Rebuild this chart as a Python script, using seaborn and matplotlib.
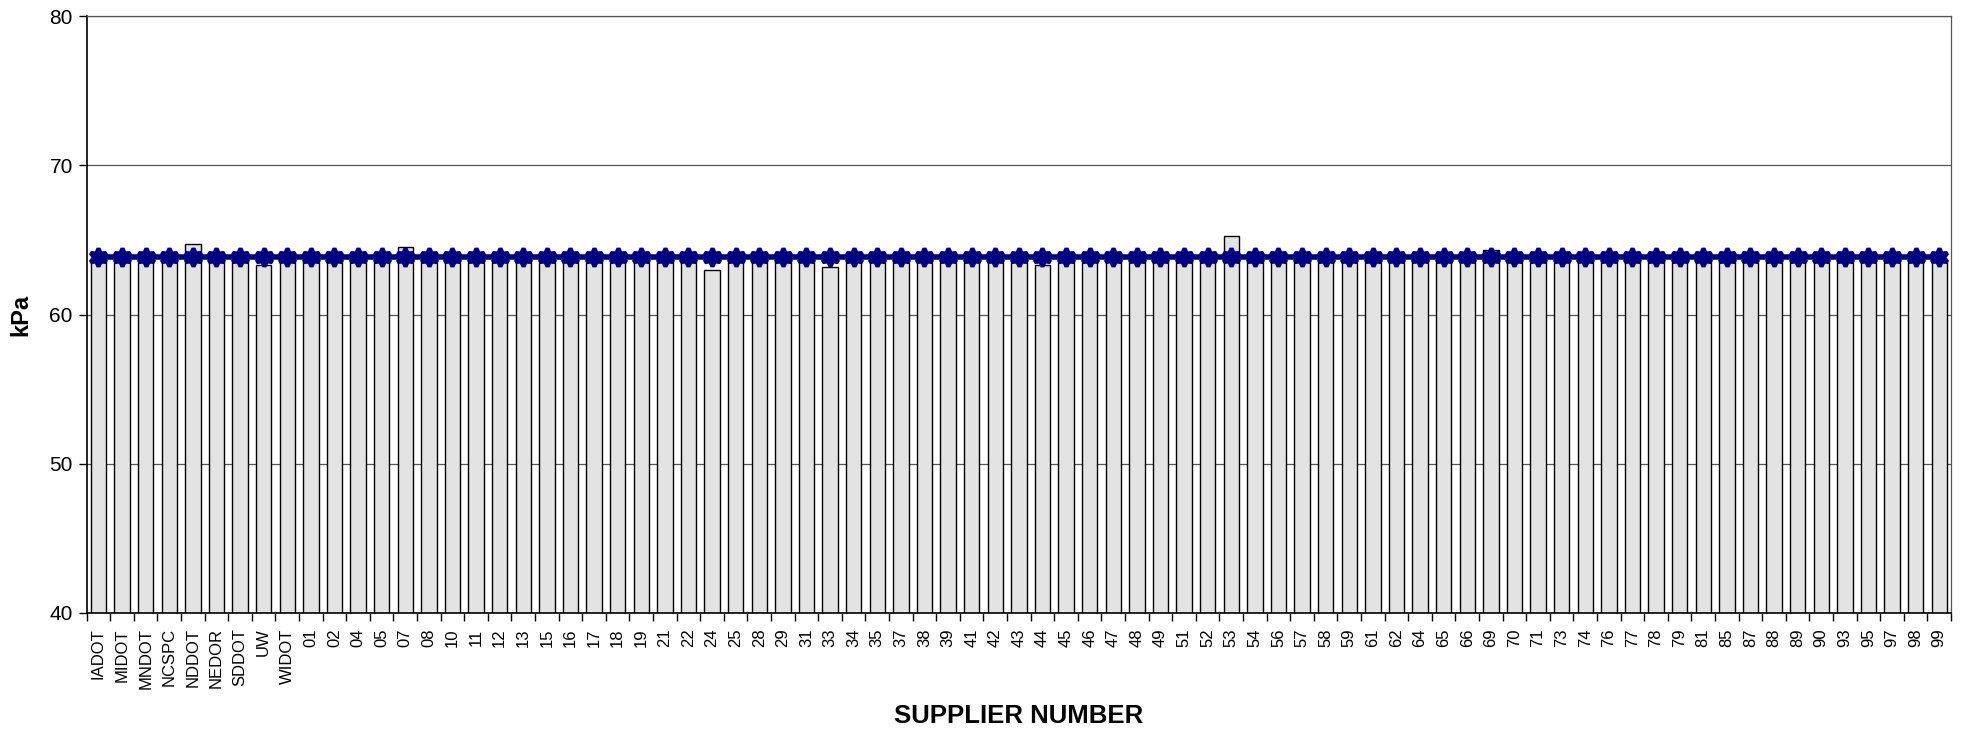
"""Supplier kPa bar chart with average line."""

import matplotlib
matplotlib.use('Agg')
import matplotlib.pyplot as plt
import matplotlib.ticker as mticker
import seaborn as sns
import numpy as np

suppliers = ['IADOT', 'MIDOT', 'MNDOT', 'NCSPC', 'NDDOT', 'NEDOR', 'SDDOT', 'UW', 'WIDOT',
             '01', '02', '04', '05', '07', '08', '10', '11', '12', '13', '15', '16', '17',
             '18', '19', '21', '22', '24', '25', '28', '29', '31', '33', '34', '35', '37',
             '38', '39', '41', '42', '43', '44', '45', '46', '47', '48', '49', '51', '52',
             '53', '54', '56', '57', '58', '59', '61', '62', '64', '65', '66', '69', '70',
             '71', '73', '74', '76', '77', '78', '79', '81', '85', '87', '88', '89', '90',
             '93', '95', '97', '98', '99']

# most suppliers sit just under the average line
kpa = [63.5] * len(suppliers)
special = {'NDDOT': 64.75, 'UW': 63.35, '04': 64.0, '07': 64.55, '24': 63.0,
           '33': 63.2, '44': 63.35, '47': 64.0, '53': 65.25, '64': 64.0, '69': 64.3}
for k, v in special.items():
    kpa[suppliers.index(k)] = v

average = [63.85] * len(suppliers)

y_ticks = [40, 50, 60, 70, 80]

sns.set_theme(style="white")
plt.rcParams['font.family'] = ['Liberation Sans', 'DejaVu Sans']
for key in ['text.color', 'axes.labelcolor', 'xtick.color', 'ytick.color']:
    plt.rcParams[key] = 'black'

fig = plt.figure(figsize=(19.65, 7.32), dpi=100)
ax = fig.add_axes([0.0441, 0.1626, 0.9488, 0.8155])

sns.barplot(x=suppliers, y=kpa, color='#e3e3e3', edgecolor='black', linewidth=1.0,
            width=0.65, saturation=1, ax=ax, zorder=2)
sns.pointplot(x=suppliers, y=average, color='#000080', marker=(6, 1, 0),
              markersize=13, linewidth=4, ax=ax, zorder=3)

ax.set_ylim(40, 80)
ax.set_xlim(-0.5, len(suppliers) - 0.5)
ax.set_yticks(y_ticks)
ax.yaxis.grid(True, color='#555555', linewidth=0.9, zorder=0)
ax.set_axisbelow(True)

ax.xaxis.set_minor_locator(mticker.FixedLocator(np.arange(-0.5, len(suppliers), 1)))
ax.tick_params(axis='x', which='major', length=0, labelsize=12, labelrotation=90, pad=11)
ax.tick_params(axis='x', which='minor', length=6, width=1, color='black', direction='out')
ax.tick_params(axis='y', which='major', length=6, width=1, color='black', direction='out',
               labelsize=15, pad=4)
ax.tick_params(bottom=True, left=True, which='both')

for side in ['left', 'bottom']:
    ax.spines[side].set_color('black')
    ax.spines[side].set_linewidth(1.2)
for side in ['top', 'right']:
    ax.spines[side].set_color('#555555')
    ax.spines[side].set_linewidth(0.9)

ax.set_ylabel('kPa', fontsize=17, fontweight='bold', labelpad=12)
ax.set_xlabel('SUPPLIER NUMBER', fontsize=18.5, fontweight='bold',
              family=['Liberation Sans Narrow', 'Liberation Sans', 'DejaVu Sans'])
ax.xaxis.set_label_coords(0.5, -0.152)

fig.savefig('out.png', dpi=100, facecolor='white')
